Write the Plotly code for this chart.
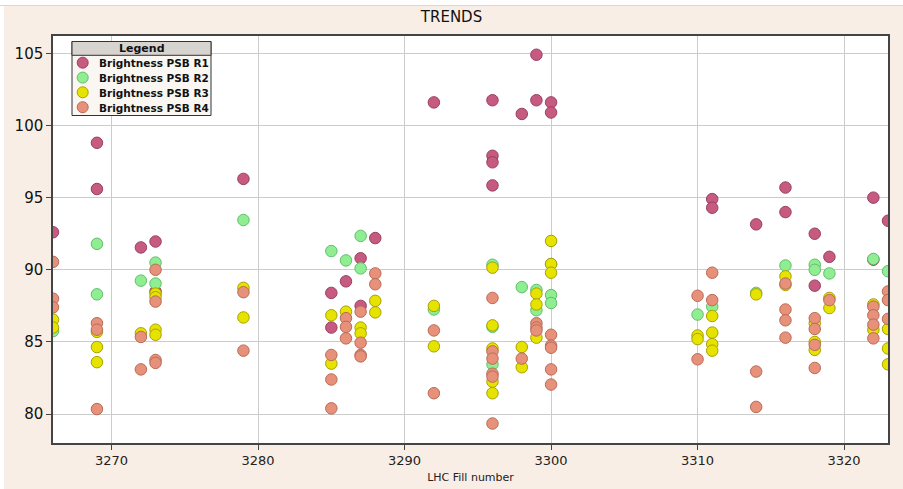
import plotly.graph_objects as go

# ---------------- data ----------------
series_names = ["Brightness PSB R1", "Brightness PSB R2", "Brightness PSB R3", "Brightness PSB R4"]

r1_x = [3266, 3269, 3269, 3272, 3273, 3273, 3279, 3285, 3285, 3286, 3287, 3287, 3288,
        3292, 3296, 3296, 3296, 3296, 3298, 3299, 3299, 3300, 3300, 3311, 3311, 3314,
        3316, 3316, 3318, 3318, 3319, 3322, 3322, 3323]
r1_y = [92.6, 98.8, 95.6, 91.55, 91.96, 88.5, 96.3, 88.4, 86.0, 89.2, 90.8, 87.5, 92.2,
        101.6, 101.75, 97.9, 97.45, 95.85, 100.8, 104.9, 101.75, 101.6, 100.9, 94.9, 94.3, 93.15,
        95.7, 94.0, 92.5, 88.9, 90.9, 95.0, 90.7, 93.4]

r2_x = [3266, 3269, 3269, 3272, 3273, 3273, 3279, 3285, 3286, 3287, 3287, 3292,
        3296, 3296, 3296, 3298, 3299, 3299, 3300, 3300, 3300, 3310, 3311, 3314,
        3316, 3318, 3318, 3319, 3322, 3323]
r2_y = [85.75, 91.8, 88.3, 89.25, 90.5, 89.05, 93.45, 91.3, 90.65, 92.35, 90.1, 87.25,
        90.35, 86.05, 83.45, 88.8, 88.6, 87.2, 90.4, 88.25, 87.7, 86.9, 87.45, 88.4,
        90.3, 90.35, 90.0, 89.75, 90.75, 89.9]

r3_x = [3266, 3266, 3269, 3269, 3269, 3272, 3273, 3273, 3273, 3273, 3279, 3279,
        3285, 3285, 3286, 3287, 3287, 3288, 3288, 3292, 3292,
        3296, 3296, 3296, 3296, 3296, 3298, 3298, 3299, 3299, 3299, 3300, 3300, 3300,
        3310, 3310, 3311, 3311, 3311, 3311, 3314, 3316, 3316, 3318, 3318, 3318,
        3319, 3319, 3322, 3322, 3323, 3323, 3323]
r3_y = [86.55, 86.0, 85.7, 84.65, 83.6, 85.6, 88.35, 88.1, 85.85, 85.5, 88.75, 86.7,
        86.85, 83.5, 87.1, 86.0, 85.6, 87.85, 87.05, 87.5, 84.7,
        90.15, 86.15, 84.55, 82.25, 81.45, 84.65, 83.25, 88.35, 87.6, 85.3, 92.0, 90.4, 89.8,
        85.45, 85.2, 86.8, 85.65, 84.85, 84.4, 88.3, 89.55, 88.95, 86.3, 85.0, 84.45,
        88.05, 87.35, 87.6, 85.85, 85.9, 84.55, 83.45]

r4_x = [3266, 3266, 3266, 3269, 3269, 3269, 3272, 3272, 3273, 3273, 3273, 3273,
        3279, 3279, 3285, 3285, 3285, 3286, 3286, 3286, 3287, 3287, 3287, 3287,
        3288, 3288, 3292, 3292, 3296, 3296, 3296, 3296, 3296, 3296, 3298,
        3299, 3299, 3299, 3300, 3300, 3300, 3300, 3300, 3310, 3310, 3311, 3311,
        3314, 3314, 3316, 3316, 3316, 3316, 3318, 3318, 3318, 3318, 3319,
        3322, 3322, 3322, 3322, 3323, 3323, 3323]
r4_y = [90.55, 88.0, 87.4, 86.3, 85.85, 80.35, 85.35, 83.1, 90.0, 87.8, 83.75, 83.55,
        88.45, 84.4, 84.1, 82.4, 80.4, 86.65, 86.05, 85.25, 87.1, 84.95, 84.1, 84.0,
        89.75, 89.0, 85.8, 81.45, 88.05, 84.35, 83.85, 82.8, 82.6, 79.35, 83.85,
        86.3, 86.0, 85.8, 85.5, 84.75, 84.6, 83.1, 82.05, 88.2, 83.8, 89.8, 87.9,
        82.95, 80.5, 89.05, 87.25, 86.5, 85.3, 86.65, 85.9, 84.8, 83.2, 87.9,
        87.45, 86.85, 86.2, 85.25, 88.5, 87.9, 86.6]

x_ticks = [3270, 3280, 3290, 3300, 3310, 3320]
y_ticks = [80, 85, 90, 95, 100, 105]

fill_colors = ["#C65A80", "#8FEE92", "#E6E300", "#E8917A"]
line_colors = ["#98405F", "#62BD6C", "#A9A100", "#B86B56"]

# ---------------- layout geometry ----------------
W, H = 903, 489
ML, MR, MT, MB = 53, 15, 36, 46
PW, PH = W - ML - MR, H - MT - MB


def px(x):
    return (x - ML) / PW


def py(y):
    return 1 - (y - MT) / PH


fig = go.Figure()
xs = [r1_x, r2_x, r3_x, r4_x]
ys = [r1_y, r2_y, r3_y, r4_y]
for name, x, y, fc, lc in zip(series_names, xs, ys, fill_colors, line_colors):
    fig.add_trace(go.Scatter(
        x=x, y=y, mode="markers", name=name, showlegend=False,
        marker=dict(size=11.5, color=fc, line=dict(color=lc, width=1)),
    ))

shapes = []
annotations = []
# white frame strip at top/left of page
shapes.append(dict(type="rect", xref="paper", yref="paper", x0=px(0), x1=px(W), y0=py(5), y1=py(0),
                   fillcolor="white", line=dict(width=0), layer="below"))
shapes.append(dict(type="rect", xref="paper", yref="paper", x0=px(0), x1=px(4), y0=py(H), y1=py(0),
                   fillcolor="white", line=dict(width=0), layer="below"))
shapes.append(dict(type="line", xref="paper", yref="paper", x0=px(0), x1=px(W), y0=py(5.5), y1=py(5.5),
                   line=dict(color="#d8d8d8", width=1), layer="below"))

# legend box (drawn manually to match the original compact legend)
LX0, LX1, LY0, LY1, LYT = 72, 211, 41.5, 115.5, 55.3
shapes.append(dict(type="rect", xref="paper", yref="paper", x0=px(LX0), x1=px(LX1), y0=py(LY1), y1=py(LY0),
                   fillcolor="#FAF6F2", line=dict(color="#333333", width=1), layer="above"))
shapes.append(dict(type="rect", xref="paper", yref="paper", x0=px(LX0), x1=px(LX1), y0=py(LYT), y1=py(LY0),
                   fillcolor="#D7D3CF", line=dict(color="#333333", width=1), layer="above"))
annotations.append(dict(xref="paper", yref="paper", x=px((LX0 + LX1) / 2), y=py((LY0 + LYT) / 2 + 0.5),
                        text="<b>Legend</b>", showarrow=False, xanchor="center", yanchor="middle",
                        font=dict(family="DejaVu Sans", size=11, color="#111111")))
item_y = [62.7, 77.6, 92.3, 107.2]
for name, fc, lc, iy in zip(series_names, fill_colors, line_colors, item_y):
    shapes.append(dict(type="circle", xref="paper", yref="paper", xsizemode="pixel", ysizemode="pixel",
                       xanchor=px(82.7), yanchor=py(iy), x0=-5.5, x1=5.5, y0=-5.5, y1=5.5,
                       fillcolor=fc, line=dict(color=lc, width=1), layer="above"))
    annotations.append(dict(xref="paper", yref="paper", x=px(96.5), y=py(iy + 0.5), text="<b>" + name + "</b>",
                            showarrow=False, xanchor="left", yanchor="middle",
                            font=dict(family="DejaVu Sans", size=10.5, color="#111111")))

fig.update_layout(
    width=W, height=H,
    margin=dict(l=ML, r=MR, t=MT, b=MB, autoexpand=False),
    paper_bgcolor="#F9EEE5",
    plot_bgcolor="white",
    title=dict(text="TRENDS", x=0.5, xanchor="center", y=1 - 17 / H, yanchor="middle",
               font=dict(family="DejaVu Sans", size=15, color="#111111")),
    showlegend=False,
    hovermode=False,
    shapes=shapes,
    annotations=annotations,
    font=dict(family="DejaVu Sans", color="#222222"),
)
fig.update_xaxes(
    range=[3266, 3323], tickvals=x_ticks, ticktext=[str(v) for v in x_ticks],
    showgrid=True, gridcolor="#CCCCCC", gridwidth=1, zeroline=False,
    showline=True, linecolor="#444444", linewidth=1.5, mirror=True,
    ticks="outside", ticklen=5, tickcolor="#444444",
    tickfont=dict(family="DejaVu Sans", size=13, color="#222222"),
    title=dict(text="LHC Fill number", standoff=6, font=dict(family="DejaVu Sans", size=11, color="#222222")),
    automargin=False,
)
fig.update_yaxes(
    range=[78.0, 106.2], tickvals=y_ticks, ticktext=[str(v) for v in y_ticks],
    showgrid=True, gridcolor="#CCCCCC", gridwidth=1, zeroline=False,
    showline=True, linecolor="#444444", linewidth=1.5, mirror=True,
    ticks="outside", ticklen=5, tickcolor="#444444",
    tickfont=dict(family="DejaVu Sans", size=15, color="#111111"),
    automargin=False,
)

fig.write_html(
    "out.html",
    config={"displayModeBar": False},
    post_script="document.body.style.margin='0';document.body.style.overflow='hidden';",
)
